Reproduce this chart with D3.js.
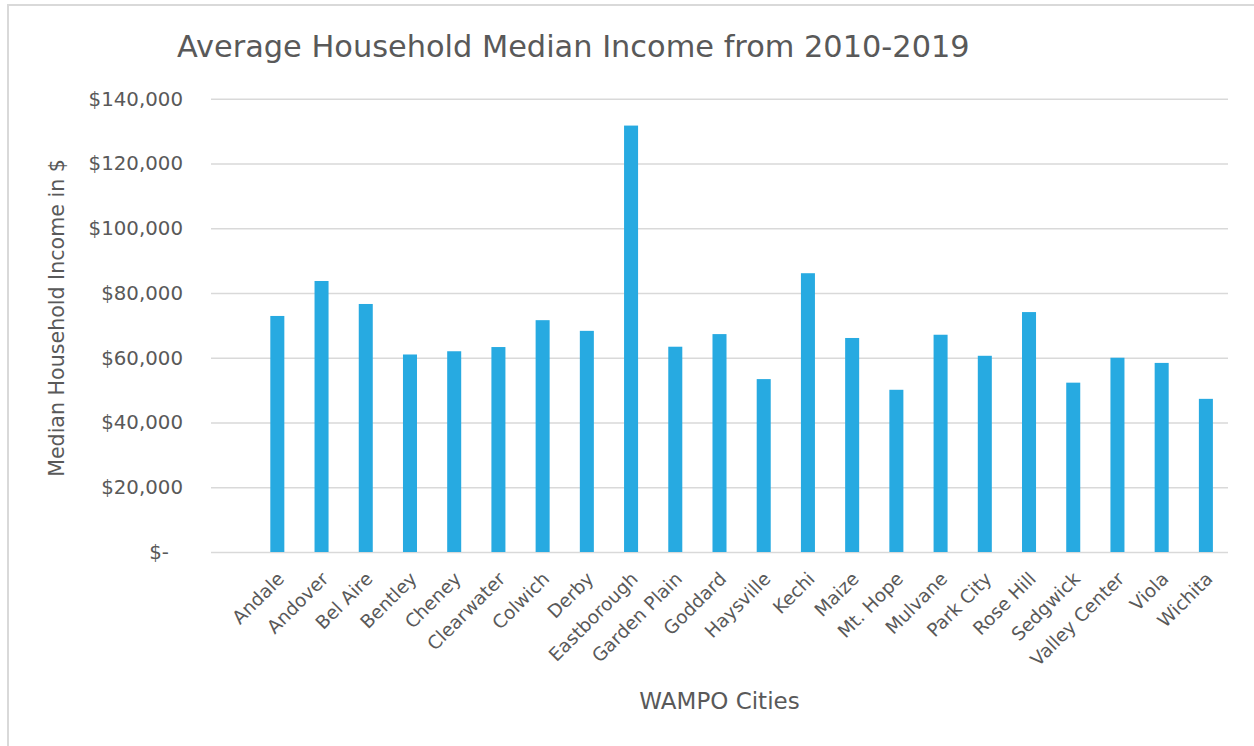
<!DOCTYPE html>
<html>
<head>
<meta charset="utf-8">
<script src="https://cdn.jsdelivr.net/npm/d3@7"></script>
<style>
  body { margin: 0; background: #fff; }
  svg text { font-family: "DejaVu Sans", sans-serif; fill: #595959; }
</style>
</head>
<body>
<svg id="chart" width="1254" height="746"></svg>

<script>
// categories (first slot is an empty category, as in the source sheet)
const cities = ["", "Andale", "Andover", "Bel Aire", "Bentley", "Cheney", "Clearwater",
  "Colwich", "Derby", "Eastborough", "Garden Plain", "Goddard", "Haysville", "Kechi",
  "Maize", "Mt. Hope", "Mulvane", "Park City", "Rose Hill", "Sedgwick",
  "Valley Center", "Viola", "Wichita"];

// average household median income 2010-2019, $
const incomes = [null, 72900, 83700, 76600, 61000, 62000, 63300, 71600, 68300, 131700,
  63400, 67300, 53400, 86100, 66100, 50100, 67100, 60600, 74100, 52300,
  60000, 58400, 47300];

const yTicks = [0, 20000, 40000, 60000, 80000, 100000, 120000, 140000];

const titleText = "Average Household Median Income from 2010-2019";
const xTitle = "WAMPO Cities";
const yTitle = "Median Household Income in $";

(() => {

const svg = d3.select("#chart");
const plotLeft = 211, plotRight = 1228, plotTop = 98.7, plotBottom = 552;

const data = cities.map((c, i) => ({ city: c, value: incomes[i] }));

// outer chart border
svg.append("rect")
  .attr("x", 8).attr("y", 5)
  .attr("width", 1270).attr("height", 770)
  .attr("fill", "none")
  .attr("stroke", "#d9d9d9")
  .attr("stroke-width", 2);

const x = d3.scaleBand()
  .domain(cities)
  .range([plotLeft, plotRight])
  .padding(0);

const y = d3.scaleLinear()
  .domain([0, 140000])
  .range([plotBottom, plotTop]);

const money = d3.format(",");

// y axis + gridlines
const yAxis = svg.append("g")
  .attr("transform", `translate(${plotLeft},0)`)
  .call(d3.axisLeft(y)
    .tickValues(yTicks)
    .tickSize(-(plotRight - plotLeft))
    .tickPadding(28)
    .tickFormat(d => d === 0 ? "$-" : "$" + money(d)));

yAxis.select(".domain").remove();
yAxis.selectAll("line")
  .attr("stroke", "#d9d9d9")
  .attr("stroke-width", 1.5);
yAxis.selectAll("text")
  .attr("font-size", 19.8)
  .attr("dx", d => d === 0 ? -14 : 0);

// bars
const barW = x.bandwidth() * 0.317;
svg.append("g")
  .selectAll("rect")
  .data(data.filter(d => d.value != null))
  .join("rect")
  .attr("x", d => x(d.city) + (x.bandwidth() - barW) / 2)
  .attr("y", d => y(d.value))
  .attr("width", barW)
  .attr("height", d => y(0) - y(d.value))
  .attr("fill", "#27aae1");

// x axis labels
const xAxis = svg.append("g")
  .attr("transform", `translate(0,${plotBottom})`)
  .call(d3.axisBottom(x).tickSize(0));

xAxis.select(".domain").remove();
xAxis.selectAll("text")
  .attr("font-size", 18.5)
  .attr("x", 0).attr("y", 0).attr("dy", 0)
  .attr("text-anchor", "end")
  .attr("transform", "translate(8,28) rotate(-45)");

// titles
svg.append("text")
  .attr("x", 177).attr("y", 57)
  .attr("font-size", 30.4)
  .text(titleText);

svg.append("text")
  .attr("x", (plotLeft + plotRight) / 2).attr("y", 709)
  .attr("text-anchor", "middle")
  .attr("font-size", 23)
  .text(xTitle);

svg.append("text")
  .attr("transform", "translate(64,318) rotate(-90)")
  .attr("text-anchor", "middle")
  .attr("font-size", 20.6)
  .text(yTitle);

})();
</script>
</body>
</html>
